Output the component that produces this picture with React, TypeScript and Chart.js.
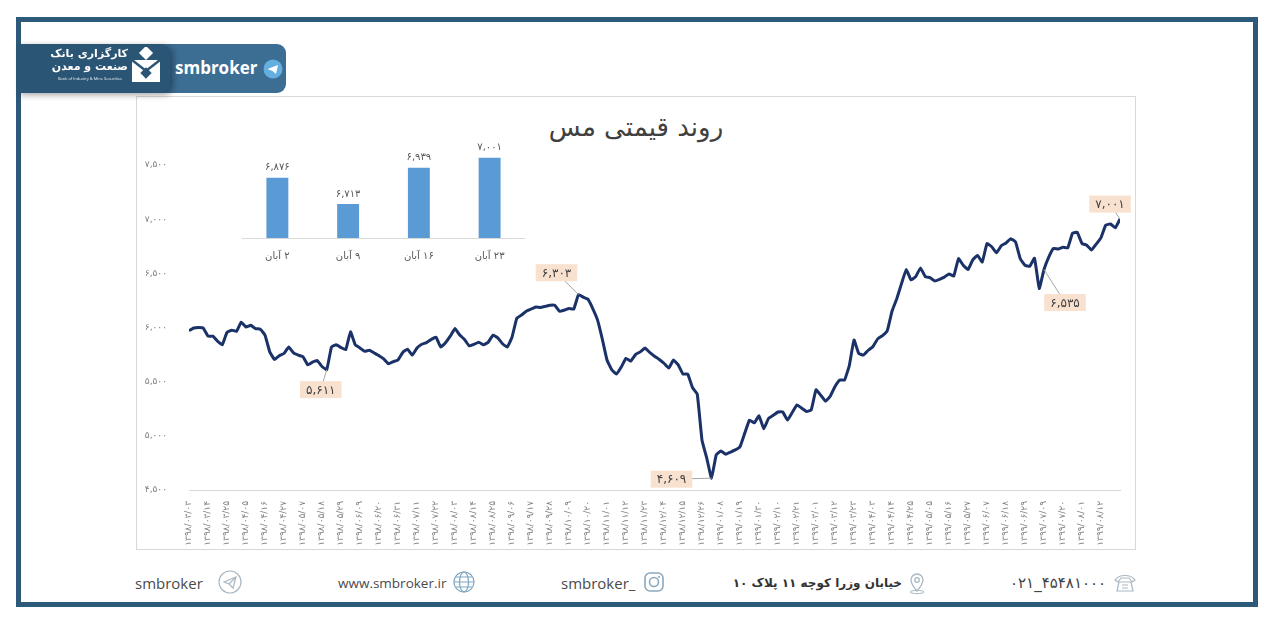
import React, { useEffect, useRef } from 'react';
import { Chart, registerables } from 'chart.js';

Chart.register(...registerables);

// تاریخ های محور افقی (هر برچسب = ۴ نقطه داده)
const tickDates = [
  '1398/03/03', '1398/03/14', '1398/03/25', '1398/04/05', '1398/04/16', '1398/04/27', '1398/05/07',
  '1398/05/18', '1398/05/29', '1398/06/09', '1398/06/20', '1398/06/31', '1398/07/11', '1398/07/22',
  '1398/08/03', '1398/08/14', '1398/08/25', '1398/09/06', '1398/09/17', '1398/09/28', '1398/10/09',
  '1398/10/20', '1398/11/01', '1398/11/12', '1398/11/23', '1398/12/04', '1398/12/15', '1398/12/26',
  '1399/01/08', '1399/01/19', '1399/01/30', '1399/02/10', '1399/02/21', '1399/03/01', '1399/03/12',
  '1399/03/23', '1399/04/03', '1399/04/14', '1399/04/25', '1399/05/05', '1399/05/16', '1399/05/27',
  '1399/06/07', '1399/06/18', '1399/06/29', '1399/07/09', '1399/07/20', '1399/08/01', '1399/08/12',
];
const pointsPerTick = 4;

// قیمت مس (دلار / تن)
const copperPrices = [
  5970, 5995, 6000, 5995, 5920, 5920, 5875, 5840, 5955, 5975,
  5965, 6050, 6005, 6020, 5990, 5985, 5930, 5775, 5705, 5740,
  5760, 5820, 5765, 5745, 5730, 5655, 5680, 5695, 5640, 5611,
  5820, 5840, 5815, 5795, 5960, 5840, 5810, 5780, 5790, 5765,
  5740, 5710, 5665, 5685, 5700, 5770, 5800, 5745, 5810, 5845,
  5860, 5890, 5910, 5820, 5860, 5920, 5990, 5930, 5890, 5830,
  5845, 5865, 5840, 5865, 5930, 5905, 5850, 5820, 5910, 6085,
  6115, 6150, 6170, 6190, 6185, 6195, 6205, 6205, 6150, 6160,
  6175, 6170, 6303, 6280, 6260, 6175, 6070, 5895, 5700, 5610,
  5570, 5635, 5715, 5690, 5750, 5775, 5810, 5770, 5735, 5705,
  5670, 5625, 5700, 5655, 5570, 5570, 5445, 5385, 4960, 4795,
  4609, 4825, 4860, 4830, 4850, 4870, 4900, 5025, 5145, 5120,
  5185, 5065, 5160, 5190, 5220, 5220, 5145, 5215, 5285, 5255,
  5225, 5240, 5425, 5375, 5320, 5365, 5455, 5515, 5515, 5645,
  5885, 5760, 5745, 5790, 5825, 5895, 5925, 5970, 6150, 6265,
  6405, 6535, 6440, 6470, 6550, 6470, 6460, 6430, 6445, 6465,
  6495, 6475, 6635, 6575, 6535, 6625, 6665, 6605, 6775, 6745,
  6690, 6755, 6780, 6820, 6790, 6635, 6575, 6565, 6640, 6360,
  6535, 6650, 6730, 6725, 6740, 6735, 6870, 6880, 6775, 6760,
  6715, 6770, 6830, 6945, 6955, 6920, 7001,
];

// نقاط برچسب دار روی نمودار اصلی
const calloutIndexes = [29, 82, 110, 180, 196];
const calloutOffsets = [
  [-6, 20], [-22, -22], [-40, 1], [21, 33], [-10, -15],
];

// نمودار کوچک هفتگی
const weekLabels = ['۲ آبان', '۹ آبان', '۱۶ آبان', '۲۳ آبان'];
const weekPrices = [6876, 6713, 6939, 7001];

const faDigits = '۰۱۲۳۴۵۶۷۸۹';
const toFa = (s: string) => s.replace(/\d/g, (d) => faDigits[+d]);
const fmt = (n: number) => toFa(n.toLocaleString('en-US'));

const FA_FONT = '"DejaVu Sans", sans-serif';

const calloutPlugin = {
  id: 'callouts',
  afterDatasetsDraw(chart: any) {
    const { ctx, scales } = chart;
    ctx.save();
    ctx.font = `12px ${FA_FONT}`;
    calloutIndexes.forEach((idx, k) => {
      const px = scales.x.getPixelForValue(idx / pointsPerTick);
      const py = scales.y.getPixelForValue(copperPrices[idx]);
      const bx = px + calloutOffsets[k][0];
      const by = py + calloutOffsets[k][1];
      const text = fmt(copperPrices[idx]);
      const w = ctx.measureText(text).width + 12;
      const h = 17;
      ctx.strokeStyle = '#a6a6a6';
      ctx.lineWidth = 1;
      ctx.beginPath();
      ctx.moveTo(px, py);
      ctx.lineTo(bx, by);
      ctx.stroke();
      ctx.fillStyle = '#f9e1d0';
      ctx.fillRect(bx - w / 2, by - h / 2, w, h);
      ctx.fillStyle = '#404040';
      ctx.textAlign = 'center';
      ctx.textBaseline = 'middle';
      ctx.fillText(text, bx, by + 1);
    });
    ctx.restore();
  },
};

const barLabelPlugin = {
  id: 'barLabels',
  afterDatasetsDraw(chart: any) {
    const { ctx } = chart;
    const meta = chart.getDatasetMeta(0);
    ctx.save();
    ctx.font = `10px ${FA_FONT}`;
    ctx.fillStyle = '#595959';
    ctx.textAlign = 'center';
    ctx.textBaseline = 'bottom';
    meta.data.forEach((bar: any, i: number) => {
      ctx.fillText(fmt(weekPrices[i]), bar.x, bar.y - 5);
    });
    ctx.restore();
  },
};

const MainChart: React.FC = () => {
  const canvasRef = useRef<HTMLCanvasElement | null>(null);
  useEffect(() => {
    if (!canvasRef.current) return;
    const chart = new Chart(canvasRef.current, {
      type: 'line',
      data: {
        datasets: [
          {
            data: copperPrices.map((v, i) => ({ x: i / pointsPerTick, y: v })),
            borderColor: '#1b3268',
            borderWidth: 3,
            pointRadius: 0,
            tension: 0.1,
          },
        ],
      },
      options: {
        animation: false,
        responsive: true,
        maintainAspectRatio: false,
        layout: { padding: { top: 68, right: 14, left: 0, bottom: 0 } },
        plugins: { legend: { display: false }, tooltip: { enabled: false } },
        scales: {
          x: {
            type: 'linear',
            min: 0,
            max: 49,
            grid: { display: false },
            border: { display: true, color: '#d9d9d9', width: 1 },
            afterFit: (scale: any) => { scale.height = 58; },
            ticks: {
              stepSize: 1,
              maxTicksLimit: 80,
              autoSkip: false,
              minRotation: 90,
              maxRotation: 90,
              padding: 3,
              color: '#7f7f7f',
              font: { size: 9, family: FA_FONT },
              callback: (v: any) => (tickDates[v] ? toFa(tickDates[v]) : ''),
            },
          },
          y: {
            min: 4500,
            max: 7500,
            grid: { display: false },
            border: { display: false },
            afterFit: (scale: any) => { scale.width = 52; },
            ticks: {
              stepSize: 500,
              padding: 14,
              color: '#7f7f7f',
              font: { size: 9, family: FA_FONT },
              callback: (v: any) => fmt(Number(v)),
            },
          },
        },
      } as any,
      plugins: [calloutPlugin],
    });
    return () => chart.destroy();
  }, []);
  return (
    <div style={{ position: 'absolute', left: 137, top: 97, width: 997, height: 451 }}>
      <canvas ref={canvasRef} />
    </div>
  );
};

const WeekChart: React.FC = () => {
  const canvasRef = useRef<HTMLCanvasElement | null>(null);
  useEffect(() => {
    if (!canvasRef.current) return;
    const chart = new Chart(canvasRef.current, {
      type: 'bar',
      data: {
        labels: weekLabels,
        datasets: [
          {
            data: weekPrices,
            backgroundColor: '#5b9bd5',
            barPercentage: 0.31,
            categoryPercentage: 1,
          },
        ],
      },
      options: {
        animation: false,
        responsive: true,
        maintainAspectRatio: false,
        layout: { padding: 0 },
        plugins: { legend: { display: false }, tooltip: { enabled: false } },
        scales: {
          x: {
            grid: { display: false },
            border: { display: true, color: '#d9d9d9' },
            afterFit: (scale: any) => { scale.height = 24; },
            ticks: { color: '#595959', font: { size: 10, family: FA_FONT }, padding: 4 },
          },
          y: { display: false, min: 6500, max: 7250 },
        },
      } as any,
      plugins: [barLabelPlugin],
    });
    return () => chart.destroy();
  }, []);
  return (
    <div style={{ position: 'absolute', left: 242, top: 118, width: 283, height: 144, direction: 'rtl' }}>
      <canvas ref={canvasRef} style={{ direction: 'rtl' }} />
    </div>
  );
};

const iconStroke = '#a9b8c3';

const Footer: React.FC = () => {
  const txt: React.CSSProperties = {
    position: 'absolute',
    top: 573,
    fontFamily: '"Open Sans", sans-serif',
    fontSize: 15,
    color: '#4a4a4a',
    lineHeight: '20px',
    whiteSpace: 'nowrap',
  };
  return (
    <>
      <div style={{ ...txt, left: 135 }}>smbroker</div>
      <svg style={{ position: 'absolute', left: 218, top: 570 }} width={24} height={24}>
        <circle cx={12} cy={12} r={11} fill="none" stroke={iconStroke} strokeWidth={1.2} />
        <path d="M6 12 L18 7 L15 18 L11 14 Z M11 14 L18 7" fill="none" stroke={iconStroke} strokeWidth={1.2} />
      </svg>
      <div style={{ ...txt, left: 338, fontSize: 13.5 }}>www.smbroker.ir</div>
      <svg style={{ position: 'absolute', left: 452, top: 570 }} width={24} height={24}>
        <circle cx={12} cy={12} r={10} fill="none" stroke="#7ea6c2" strokeWidth={1.2} />
        <ellipse cx={12} cy={12} rx={4.5} ry={10} fill="none" stroke="#7ea6c2" strokeWidth={1.2} />
        <path d="M2 12 H22 M4 7 H20 M4 17 H20" stroke="#7ea6c2" strokeWidth={1.2} />
      </svg>
      <div style={{ ...txt, left: 561 }}>smbroker_</div>
      <svg style={{ position: 'absolute', left: 643, top: 571 }} width={22} height={22}>
        <rect x={2} y={2} width={18} height={18} rx={5} fill="none" stroke="#8aa9bd" strokeWidth={1.6} />
        <circle cx={11} cy={11} r={4.5} fill="none" stroke="#8aa9bd" strokeWidth={1.6} />
        <circle cx={16} cy={6} r={1} fill="#8aa9bd" />
      </svg>
      <div
        dir="rtl"
        style={{ ...txt, left: 730, width: 172, textAlign: 'right', fontFamily: FA_FONT, fontSize: 12, fontWeight: 'bold', color: '#333' }}
      >
        خیابان وزرا کوچه ۱۱ پلاک ۱۰
      </div>
      <svg style={{ position: 'absolute', left: 907, top: 571 }} width={20} height={24}>
        <path d="M10 20 C4 13 4 11 4 9 A6 6 0 0 1 16 9 C16 11 16 13 10 20 Z" fill="none" stroke={iconStroke} strokeWidth={1.3} />
        <circle cx={10} cy={9} r={2.3} fill="none" stroke={iconStroke} strokeWidth={1.3} />
        <ellipse cx={10} cy={21} rx={7} ry={1.6} fill="none" stroke={iconStroke} strokeWidth={1} />
      </svg>
      <div style={{ ...txt, left: 1010, fontFamily: FA_FONT, fontSize: 15, color: '#444' }}>
        {toFa('021_45481000')}
      </div>
      <svg style={{ position: 'absolute', left: 1113, top: 572 }} width={24} height={22}>
        <path d="M2 8 C6 2 18 2 22 8 L19 10 L16 6 H8 L5 10 Z" fill="none" stroke={iconStroke} strokeWidth={1.2} />
        <path d="M6 10 H18 L20 19 H4 Z" fill="none" stroke={iconStroke} strokeWidth={1.2} />
        <path d="M9 13 H15 M9 16 H15" stroke={iconStroke} strokeWidth={1.2} />
      </svg>
    </>
  );
};

const Header: React.FC = () => (
  <>
    <div
      style={{
        position: 'absolute', left: 150, top: 44, width: 136, height: 49,
        background: '#3c6d93', borderRadius: '0 9px 9px 0',
      }}
    />
    <div
      style={{
        position: 'absolute', left: 175, top: 56, fontFamily: '"Open Sans", sans-serif',
        fontWeight: 'bold', fontSize: 17, color: '#fff', lineHeight: '24px',
      }}
    >
      smbroker
    </div>
    <svg style={{ position: 'absolute', left: 263, top: 59 }} width={20} height={20}>
      <circle cx={10} cy={10} r={9.5} fill="#64aee0" />
      <path d="M4.5 10 L15 6 L13 15 L9.5 12 Z" fill="#fff" />
    </svg>
    <div
      style={{
        position: 'absolute', left: 17, top: 44, width: 153, height: 49,
        background: '#2b5574', borderRadius: '0 9px 9px 0', boxShadow: '3px 2px 6px rgba(0,0,0,0.35)',
      }}
    />
    <div
      dir="rtl"
      style={{
        position: 'absolute', left: 40, top: 47, width: 88, textAlign: 'right',
        fontFamily: FA_FONT, fontWeight: 'bold', fontSize: 11, color: '#fff', lineHeight: '13px',
      }}
    >
      <div>کارگزاری بانک</div>
      <div>صنعت و معدن</div>
    </div>
    <div
      style={{
        position: 'absolute', left: 58, top: 76, fontFamily: '"Open Sans", sans-serif',
        fontSize: 4, color: '#e6eef4', whiteSpace: 'nowrap',
      }}
    >
      Bank of Industry &amp; Mine Securities
    </div>
    <svg style={{ position: 'absolute', left: 130, top: 47 }} width={32} height={36}>
      <rect x={11} y={1} width={10} height={10} fill="#fff" transform="rotate(45 16 6)" />
      <rect x={2} y={13} width={28} height={22} fill="#fff" />
      <path d="M2 13 L16 24 L30 13" fill="none" stroke="#2b5574" strokeWidth={2.5} />
      <rect x={12} y={22} width={8} height={8} fill="#2b5574" transform="rotate(45 16 26)" />
    </svg>
  </>
);

const App: React.FC = () => (
  <div style={{ position: 'fixed', left: 0, top: 0, width: 1280, height: 625, background: '#fff', overflow: 'hidden' }}>
    <div
      style={{
        position: 'absolute', left: 16, top: 17, width: 1232, height: 580,
        border: '5px solid #2d5a7b',
      }}
    />
    <div
      style={{
        position: 'absolute', left: 136, top: 96, width: 998, height: 452,
        border: '1px solid #d9d9d9', background: '#fff',
      }}
    />
    <div
      style={{
        position: 'absolute', left: 136, top: 110, width: 1000, textAlign: 'center',
        fontFamily: FA_FONT, fontSize: 26, color: '#404040', lineHeight: '34px',
      }}
    >
      روند قیمتی مس
    </div>
    <MainChart />
    <WeekChart />
    <Header />
    <Footer />
  </div>
);

export default App;
